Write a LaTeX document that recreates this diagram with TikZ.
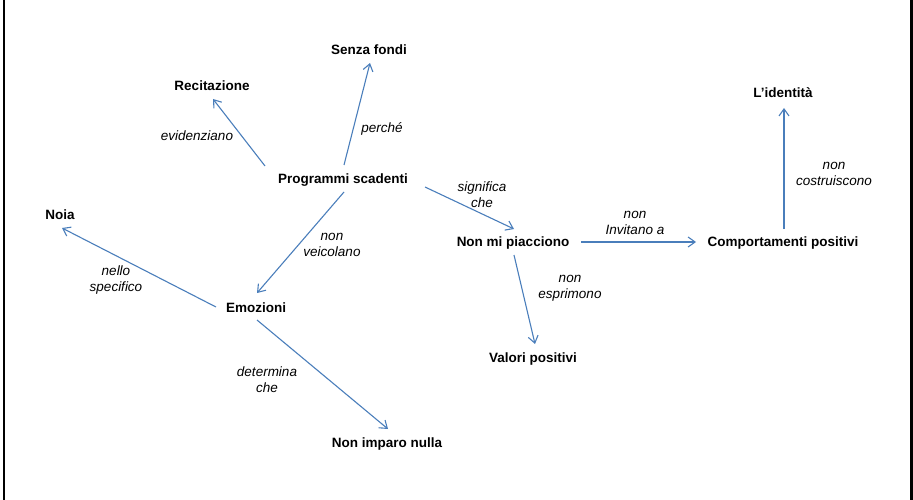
\documentclass[tikz,border=0pt]{standalone}
\usepackage{fontspec}
\setmainfont{Liberation Sans}
\usetikzlibrary{arrows.meta}
\definecolor{linkblue}{RGB}{74,126,187}
\begin{document}
\begin{tikzpicture}[x=1pt,y=-1pt,
  concept/.style={font=\fontsize{13.5}{16}\selectfont\bfseries, inner sep=0pt, text height=10pt, text depth=3pt},
  linklabel/.style={font=\fontsize{13.5}{16}\selectfont\itshape, align=center, inner sep=0pt},
  link/.style={draw=linkblue, line width=1.1pt, -{Straight Barb[length=7pt,width=10pt,line width=1.1pt]}}]
\useasboundingbox (0,0) rectangle (913,500);
% side rules of the frame
\draw[line width=2pt] (4,0) -- (4,500);
\draw[line width=3pt] (911.5,0) -- (911.5,500);

% concepts
\node[concept] (prog)    at (343,180) {Programmi scadenti};
\node[concept] (senza)   at (369,51)  {Senza fondi};
\node[concept] (recit)   at (212,87)  {Recitazione};
\node[concept] (noia)    at (60,216)  {Noia};
\node[concept] (emoz)    at (256,309) {Emozioni};
\node[concept] (imparo)  at (387,444) {Non imparo nulla};
\node[concept] (piacc)   at (513,243) {Non mi piacciono};
\node[concept] (valori)  at (533,359) {Valori positivi};
\node[concept] (comport) at (783,243) {Comportamenti positivi};
\node[concept] (ident)   at (783,94)  {L’identità};

% links
\draw[link] ([xshift=1pt,yshift=15pt]prog.center) -- ([xshift=1pt,yshift=-12pt]senza.center);
\draw[link] ([xshift=-78pt,yshift=14pt]prog.center) -- ([xshift=1pt,yshift=-12pt]recit.center);
\draw[link] ([xshift=1pt,yshift=-12pt]prog.center) -- ([xshift=1pt,yshift=16pt]emoz.center);
\draw[link] ([xshift=82pt,yshift=-7pt]prog.center) -- ([xshift=1pt,yshift=14pt]piacc.center);
\draw[link] ([xshift=-40pt,yshift=2pt]emoz.center) -- ([xshift=2pt,yshift=-12pt]noia.center);
\draw[link] ([xshift=1pt,yshift=-11pt]emoz.center) -- ([xshift=1pt,yshift=15pt]imparo.center);
\draw[link] ([xshift=68pt,yshift=1pt]piacc.center) -- ([xshift=-87pt,yshift=1pt]comport.center);
\draw[link] ([xshift=1pt,yshift=-12pt]piacc.center) -- ([xshift=2pt,yshift=15pt]valori.center);
\draw[link] ([xshift=1pt,yshift=14pt]comport.center) -- ([xshift=1pt,yshift=-14pt]ident.center);

% link labels
\node[linklabel] (l1) at (382,129) {perché};
\node[linklabel] (l2) at (197,136) {evidenziano};
\node[linklabel] (l3) at (332,245) {non\\veicolano};
\node[linklabel] (l4) at (482,195) {significa\\che};
\node[linklabel] (l5) at (116,280) {nello\\specifico};
\node[linklabel] (l6) at (267,380) {determina\\che};
\node[linklabel] (l7) at (635,223) {non\\Invitano a};
\node[linklabel] (l8) at (570,288) {non\\esprimono};
\node[linklabel] (l9) at (834,174) {non\\costruiscono};
\end{tikzpicture}
\end{document}
